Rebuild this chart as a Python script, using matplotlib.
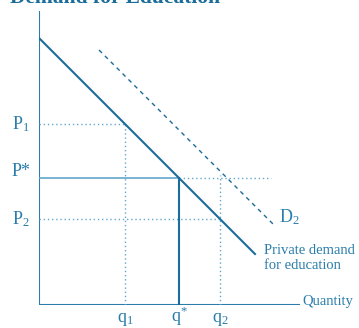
import matplotlib
matplotlib.use("Agg")
import matplotlib.pyplot as plt

plt.rcParams['font.family'] = ['Liberation Serif', 'DejaVu Serif']
plt.rcParams['mathtext.fontset'] = 'custom'
plt.rcParams['mathtext.rm'] = 'Liberation Serif'
plt.rcParams['mathtext.it'] = 'Liberation Serif'

# Data (quantity / price in chart units)
d1_q = [0, 216]
d1_p = [267, 51]
d2_q = [60, 234]
d2_p = [255, 81]
price_levels = {"P1": 181, "Pstar": 127, "P2": 86}
quantity_levels = {"q1": 86, "qstar": 140, "q2": 181}
pstar_extend = 232
q2_top = 130

dark = '#1b6c98'
mid = '#2a7dab'
light = '#62a6cc'

W, H = 359, 328
fig = plt.figure(figsize=(W / 100, H / 100), dpi=100)
ax = fig.add_axes([39 / W, 23 / H, 261 / W, 294 / H])
ax.set_xlim(0, 261)
ax.set_ylim(0, 294)
ax.axis('off')

# axes lines
ax.plot([0, 0], [0, 294], color=mid, lw=1.5, solid_capstyle='butt')
ax.plot([0, 261], [0, 0], color=mid, lw=1.5, solid_capstyle='butt')

P1, Ps, P2 = price_levels["P1"], price_levels["Pstar"], price_levels["P2"]
q1, qs, q2 = quantity_levels["q1"], quantity_levels["qstar"], quantity_levels["q2"]

# guide lines
dot = (0, (1, 2))
ax.plot([0, q1], [P1, P1], color=light, lw=1, ls=dot)
ax.plot([q1, q1], [0, P1], color=light, lw=1, ls=dot)
ax.plot([0, q2], [P2, P2], color=light, lw=1, ls=dot)
ax.plot([q2, q2], [0, q2_top], color=light, lw=1, ls=dot)
ax.plot([qs, pstar_extend], [Ps, Ps], color=light, lw=1, ls=dot)
ax.plot([0, qs], [Ps, Ps], color=light, lw=1.2)
ax.plot([qs, qs], [0, Ps], color=dark, lw=1.5)

# demand curves
ax.plot(d1_q, d1_p, color=dark, lw=1.5)
ax.plot(d2_q, d2_p, color=dark, lw=1, ls=(0, (3, 3)))

# labels
fig.text(115 / W, 1 - 3 / H, "Demand for Education", ha='center', va='baseline',
         fontsize=15.5, fontweight='bold', color=dark)

tc = mid
fs = 13
ax.text(-27, P1, r"P$_\mathregular{1}$", ha='left', va='center', fontsize=fs, color=tc)
ax.text(-27, Ps + 6, r"P*", ha='left', va='center', fontsize=fs, color=tc)
ax.text(-27, P2, r"P$_\mathregular{2}$", ha='left', va='center', fontsize=fs, color=tc)

ax.text(q1, -17, r"q$_\mathregular{1}$", ha='center', va='baseline', fontsize=fs, color=tc, clip_on=False)
ax.text(qs, -17, r"q$^\mathregular{*}$", ha='center', va='baseline', fontsize=fs, color=tc, clip_on=False)
ax.text(q2, -17, r"q$_\mathregular{2}$", ha='center', va='baseline', fontsize=fs, color=tc, clip_on=False)

ax.text(240, 88, r"D$_\mathregular{2}$", ha='left', va='center', fontsize=fs, color=tc)
ax.text(225, 47, "Private demand\nfor education", ha='left', va='center', fontsize=10.5,
        color=tc, linespacing=1.15)
ax.text(263, 0, "Quantity", ha='left', va='baseline', fontsize=10.5, color=tc, clip_on=False)

fig.savefig("out.png", dpi=100)
